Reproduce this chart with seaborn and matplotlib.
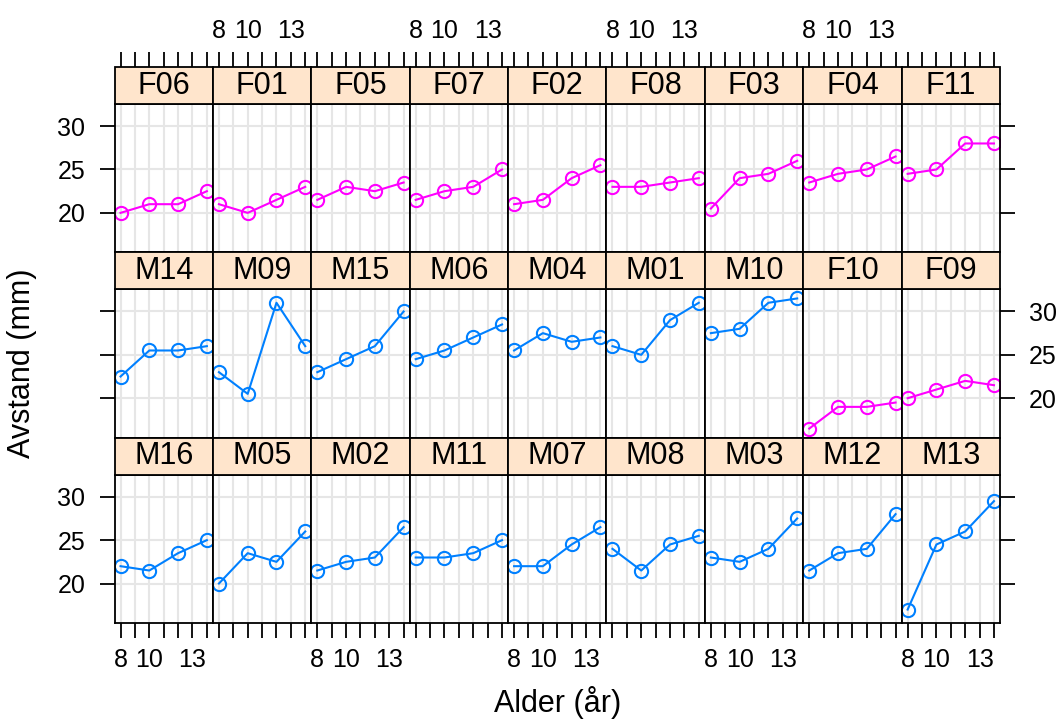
import matplotlib
matplotlib.use("Agg")
import matplotlib.pyplot as plt
from matplotlib.patches import Rectangle
import numpy as np
import pandas as pd
import seaborn as sns

# Orthodont data: distance (mm) at age 8, 10, 12, 14
ages = [8, 10, 12, 14]
subjects = ["M01", "M02", "M03", "M04", "M05", "M06", "M07", "M08", "M09", "M10",
            "M11", "M12", "M13", "M14", "M15", "M16",
            "F01", "F02", "F03", "F04", "F05", "F06", "F07", "F08", "F09", "F10", "F11"]
distances = [
    [26, 25, 29, 31], [21.5, 22.5, 23, 26.5], [23, 22.5, 24, 27.5], [25.5, 27.5, 26.5, 27],
    [20, 23.5, 22.5, 26], [24.5, 25.5, 27, 28.5], [22, 22, 24.5, 26.5], [24, 21.5, 24.5, 25.5],
    [23, 20.5, 31, 26], [27.5, 28, 31, 31.5], [23, 23, 23.5, 25], [21.5, 23.5, 24, 28],
    [17, 24.5, 26, 29.5], [22.5, 25.5, 25.5, 26], [23, 24.5, 26, 30], [22, 21.5, 23.5, 25],
    [21, 20, 21.5, 23], [21, 21.5, 24, 25.5], [20.5, 24, 24.5, 26], [23.5, 24.5, 25, 26.5],
    [21.5, 23, 22.5, 23.5], [20, 21, 21, 22.5], [21.5, 22.5, 23, 25], [23, 23, 23.5, 24],
    [20, 21, 22, 21.5], [16.5, 19, 19, 19.5], [24.5, 25, 28, 28],
]
# panel order, top row first
panel_order = ["F06", "F01", "F05", "F07", "F02", "F08", "F03", "F04", "F11",
               "M14", "M09", "M15", "M06", "M04", "M01", "M10", "F10", "F09",
               "M16", "M05", "M02", "M11", "M07", "M08", "M03", "M12", "M13"]
x_ticks = [8, 9, 10, 11, 12, 13, 14]
x_labels = ["8", "", "10", "", "", "13", ""]
y_ticks = [20, 25, 30]

rows = []
for s, d in zip(subjects, distances):
    for a, v in zip(ages, d):
        rows.append({"Subject": s, "age": a, "distance": v, "Sex": "Male" if s[0] == "M" else "Female"})
df = pd.DataFrame(rows)

palette = {"Male": "#0080ff", "Female": "#ff00ff"}

plt.rcParams["font.family"] = ["Liberation Sans", "DejaVu Sans"]

g = sns.FacetGrid(df, col="Subject", col_wrap=9, col_order=panel_order,
                  sharex=True, sharey=True, despine=False, height=2, aspect=1)
g.map_dataframe(sns.lineplot, x="age", y="distance", hue="Sex", palette=palette,
                marker="o", markersize=9.5, markerfacecolor="none", markeredgewidth=1.5,
                linewidth=1.5, legend=False)
g.figure.set_size_inches(10.6, 7.2)

W, H = 1060, 720
left, right = 114.5 / W, 1000 / W
top, bottom = 1 - 104 / H, 1 - 623 / H
strip_px = 37
panel_px = (623 - 104 - 2 * strip_px) / 3
g.figure.subplots_adjust(left=left, right=right, top=top, bottom=bottom,
                         wspace=0, hspace=strip_px / panel_px)
strip_h = strip_px / panel_px

xlim = (8 - 6 * 0.07, 14 + 6 * 0.07)
ylim = (16.5 - 15 * 0.07, 31.5 + 15 * 0.07)
tick_fs = 18
tick_len = 11

for i, ax in enumerate(g.axes.flat):
    r, c = divmod(i, 9)
    name = panel_order[i]
    for line in ax.lines:
        line.set_markeredgecolor(line.get_color())
    ax.set_xlim(*xlim)
    ax.set_ylim(*ylim)
    ax.set_title("")
    ax.set_xlabel("")
    ax.set_ylabel("")
    ax.set_xticks(x_ticks)
    ax.set_yticks(y_ticks)
    ax.grid(True, color="#e6e6e6", linewidth=1.5)
    ax.set_axisbelow(True)
    for sp in ax.spines.values():
        sp.set_color("black")
        sp.set_linewidth(1.3)

    # strip
    ax.add_patch(Rectangle((0, 1), 1, strip_h, transform=ax.transAxes,
                           facecolor="#ffe5cc", edgecolor="black", linewidth=1.3,
                           clip_on=False, zorder=3))
    ax.text(0.5, 1 + strip_h / 2, name, transform=ax.transAxes, ha="center", va="center",
            fontsize=22, zorder=4)

    # x ticks: bottom row at bottom, top row above strip
    show_bottom = r == 2
    ax.tick_params(axis="x", direction="out", length=tick_len, width=1.3, labelsize=tick_fs,
                   bottom=show_bottom, labelbottom=show_bottom and c % 2 == 0,
                   top=False, labeltop=False, pad=7)
    if show_bottom:
        ax.set_xticklabels(x_labels)
    if r == 0:
        sec = ax.secondary_xaxis(1 + strip_h)
        sec.set_xticks(x_ticks)
        sec.set_xticklabels(x_labels if c % 2 == 1 else [""] * 7)
        sec.tick_params(direction="out", length=tick_len, width=1.3, labelsize=tick_fs, pad=6)
        sec.spines["top"].set_visible(False)

    # y ticks: left column and right column
    ax.tick_params(axis="y", direction="out", length=tick_len, width=1.3, labelsize=tick_fs, pad=10,
                   left=c == 0, labelleft=(c == 0 and r != 1),
                   right=c == 8, labelright=(c == 8 and r == 1))

g.figure.text((left + right) / 2, 1 - 712 / H, "Alder (år)", ha="center", va="baseline", fontsize=22)
g.figure.text(22 / W, 1 - 363 / H, "Avstand (mm)", ha="center", va="center",
              rotation=90, fontsize=22)

g.figure.savefig("out.png", dpi=100)
